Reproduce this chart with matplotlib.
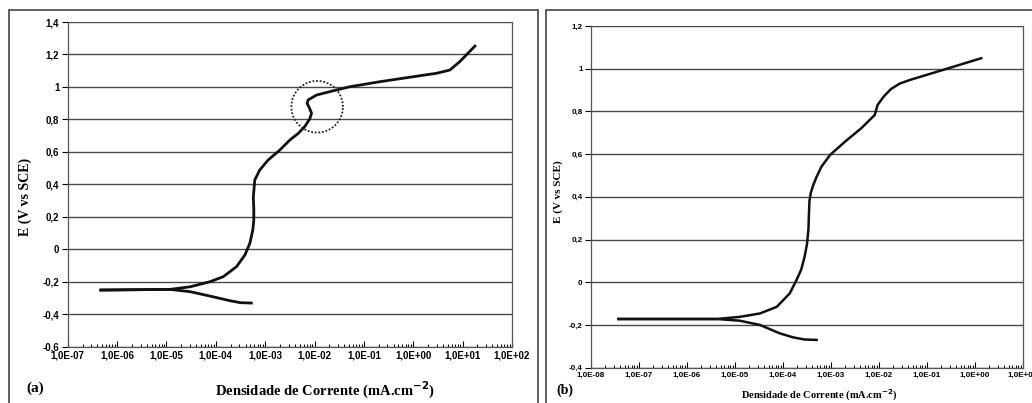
import matplotlib
matplotlib.use("Agg")
import matplotlib.pyplot as plt
import numpy as np
from matplotlib.patches import Rectangle
from matplotlib.ticker import FixedLocator, FuncFormatter, LogLocator, NullFormatter

# curve (a): log10 of current density (mA/cm2) and potential (V vs SCE)
a_anodic_logi = [-6.33, -4.93, -4.52, -4.12, -3.85, -3.58, -3.41, -3.31, -3.25, -3.23,
                 -3.23, -3.24, -3.21, -3.11, -2.94, -2.70, -2.50, -2.33, -2.20, -2.10,
                 -2.06, -2.10, -2.15, -2.13, -1.96, -1.69, -1.29, -0.68, 0.00, 0.47,
                 0.74, 0.94, 1.25]
a_anodic_E = [-0.251, -0.247, -0.231, -0.200, -0.169, -0.107, -0.035, 0.037, 0.119, 0.180,
              0.250, 0.320, 0.427, 0.488, 0.550, 0.612, 0.673, 0.714, 0.755, 0.801,
              0.838, 0.868, 0.899, 0.920, 0.950, 0.971, 1.001, 1.032, 1.063, 1.084,
              1.104, 1.155, 1.252]
a_cathodic_logi = [-6.33, -4.93, -4.52, -4.12, -3.71, -3.50, -3.28]
a_cathodic_E = [-0.251, -0.247, -0.261, -0.288, -0.317, -0.329, -0.331]

# curve (b)
b_anodic_logi = [-7.43, -5.38, -4.90, -4.48, -4.13, -3.86, -3.72, -3.62, -3.55, -3.50,
                 -3.47, -3.46, -3.45, -3.42, -3.37, -3.30, -3.20, -3.02, -2.71, -2.37,
                 -2.23, -2.09, -2.03, -1.90, -1.75, -1.57, -1.36, -0.67, 0.13]
b_anodic_E = [-0.172, -0.172, -0.162, -0.146, -0.115, -0.052, 0.010, 0.060, 0.120, 0.180,
              0.250, 0.320, 0.380, 0.420, 0.455, 0.494, 0.541, 0.596, 0.658, 0.721,
              0.752, 0.783, 0.830, 0.870, 0.905, 0.930, 0.947, 0.994, 1.049]
b_cathodic_logi = [-7.43, -5.38, -4.90, -4.48, -4.07, -3.79, -3.55, -3.30]
b_cathodic_E = [-0.172, -0.172, -0.180, -0.200, -0.239, -0.258, -0.268, -0.270]

# dotted ring on (a): centre (log10 i, E) and half sizes
ring_centre = (-1.947, 0.878)
ring_half = (0.522, 0.159)

xlabel = "Densidade de Corrente (mA.cm$^{\\mathbf{-2}}$)"
ylabel = "E (V vs SCE)"


def sci_label(v, pos):
    e = int(round(np.log10(v)))
    return "1,0E{:+03d}".format(e)


def comma_label(v, pos):
    return "{:g}".format(round(v, 2)).replace(".", ",")


def style_axes(ax, xlim, yticks, tick_fs):
    ax.set_xscale("log")
    ax.set_xlim(*xlim)
    ax.set_ylim(yticks[0], yticks[-1])
    ax.xaxis.set_major_locator(LogLocator(base=10, numticks=20))
    ax.xaxis.set_minor_locator(LogLocator(base=10, subs=np.arange(2, 10), numticks=20))
    ax.xaxis.set_major_formatter(FuncFormatter(sci_label))
    ax.xaxis.set_minor_formatter(NullFormatter())
    ax.yaxis.set_major_locator(FixedLocator(yticks))
    ax.yaxis.set_major_formatter(FuncFormatter(comma_label))
    ax.grid(axis="y", color="#4a4a4a", linewidth=1.0)
    ax.tick_params(axis="x", which="major", direction="in", length=4, width=0.8, pad=3)
    ax.tick_params(axis="x", which="minor", direction="in", length=2.5, width=0.7)
    ax.tick_params(axis="y", direction="out", length=4, width=0.8, pad=2)
    for lab in ax.get_xticklabels() + ax.get_yticklabels():
        lab.set_fontsize(tick_fs)
        lab.set_fontweight("bold")
        lab.set_family("Liberation Sans")
    for s in ax.spines.values():
        s.set_color("#555555")
        s.set_linewidth(0.9)
    ax.spines["top"].set_visible(False)


fig = plt.figure(figsize=(10.32, 4.03), dpi=100)

# panel frames
fig.patches.append(Rectangle((9 / 1032, -0.05), 529 / 1032, 1.05 - 10 / 403, transform=fig.transFigure,
                             fill=False, edgecolor="#444444", linewidth=1.2))
fig.patches.append(Rectangle((546 / 1032, -0.05), 0.5, 1.05 - 10 / 403, transform=fig.transFigure,
                             fill=False, edgecolor="#444444", linewidth=1.2))

ax1 = fig.add_axes([0.0656, 0.1397, 0.4305, 0.8057])
style_axes(ax1, (1e-7, 1e2), np.round(np.arange(-0.6, 1.41, 0.2), 1), 7)
ax1.plot(10 ** np.array(a_anodic_logi), a_anodic_E, color="#111111", linewidth=2.0)
ax1.plot(10 ** np.array(a_cathodic_logi), a_cathodic_E, color="#111111", linewidth=2.0)
t = np.linspace(0, 2 * np.pi, 120)
ax1.plot(10 ** (ring_centre[0] + ring_half[0] * np.cos(t)), ring_centre[1] + ring_half[1] * np.sin(t),
         color="#222222", linestyle=(0, (1, 1)), linewidth=1.3)

ax2 = fig.add_axes([0.5727, 0.0876, 0.4186, 0.848])
style_axes(ax2, (1e-8, 1e1), np.round(np.arange(-0.4, 1.21, 0.2), 1), 5.8)
ax2.plot(10 ** np.array(b_anodic_logi), b_anodic_E, color="#111111", linewidth=1.8)
ax2.plot(10 ** np.array(b_cathodic_logi), b_cathodic_E, color="#111111", linewidth=1.8)

serif = "Liberation Serif"
fig.text(25 / 1032, 1 - 197 / 403, ylabel, rotation=90, ha="center", va="center",
         family=serif, fontweight="bold", fontsize=10)
fig.text(558 / 1032, 1 - 192 / 403, ylabel, rotation=90, ha="center", va="center",
         family=serif, fontweight="bold", fontsize=8)
fig.text(325 / 1032, 1 - 390 / 403, xlabel, ha="center", va="center",
         family=serif, fontweight="bold", fontsize=10.5)
fig.text(819 / 1032, 1 - 388 / 403, xlabel, ha="center", va="top",
         family=serif, fontweight="bold", fontsize=7.5)
fig.text(26 / 1032, 1 - 388 / 403, "(a)", ha="left", va="center",
         family=serif, fontweight="bold", fontsize=11)
fig.text(556 / 1032, 1 - 390 / 403, "(b)", ha="left", va="center",
         family=serif, fontweight="bold", fontsize=10)

fig.savefig("out.png", dpi=100)
